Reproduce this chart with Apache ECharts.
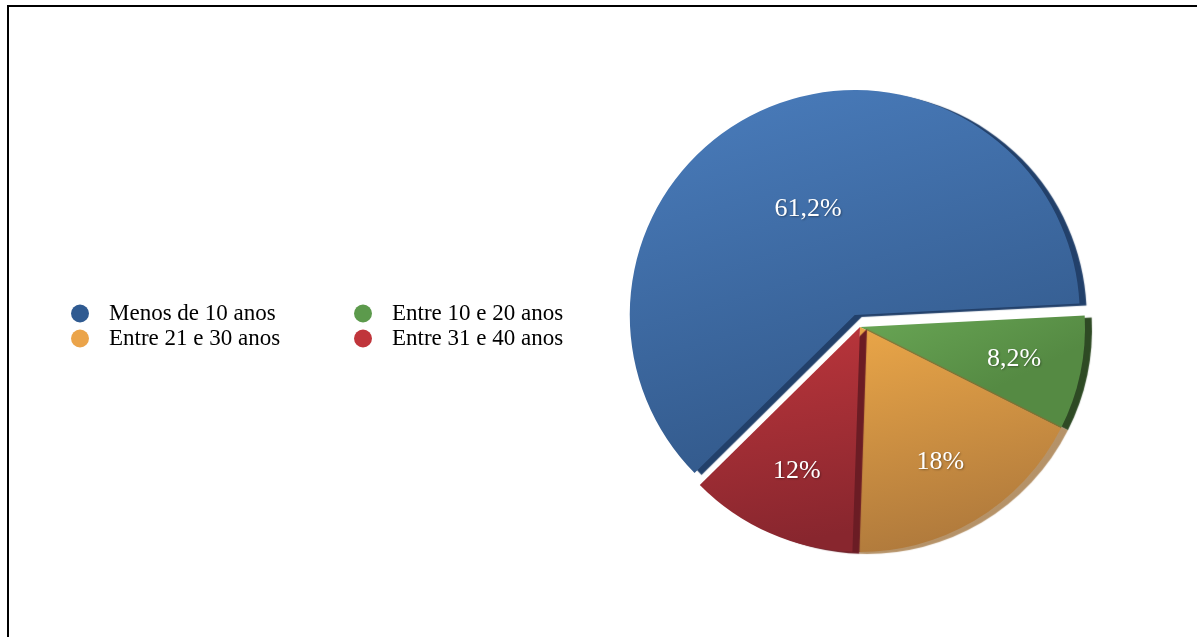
<!DOCTYPE html>
<html>
<head>
<meta charset="utf-8">
<script src="https://cdn.jsdelivr.net/npm/echarts/dist/echarts.min.js"></script>
<style>
  html, body { margin: 0; padding: 0; background: #fff; }
  #frame {
    position: absolute; left: 7px; top: 5px; right: 0; bottom: 0;
    border-top: 2px solid #000; border-left: 2px solid #000;
  }
  #chart { position: absolute; left: 0; top: 0; width: 1197px; height: 637px; }
</style>
</head>
<body>
<div id="frame"></div>
<div id="chart"></div>
<script>
// Age groups and their share of respondents (%)
const categories = ['Menos de 10 anos', 'Entre 10 e 20 anos', 'Entre 21 e 30 anos', 'Entre 31 e 40 anos'];
const shares = [61.2, 8.2, 18, 12];

// Slice shading: legend colour, light top tone, dark bottom tone, side/shadow tone
const legendColors = ['#2f5a91', '#5c9a4c', '#eba44a', '#c0353b'];
const topTones     = ['#4a7dbd', '#69a655', '#eaa648', '#bd363c'];
const bottomTones  = ['#335a8c', '#558a43', '#b07a3c', '#88262e'];
const sideTones    = ['#22406a', '#2e4a24', 'rgba(150,100,40,0.7)', '#6b1c24'];

const serif = '"Liberation Serif", "DejaVu Serif", serif';

const PIE_CENTER = [860, 327];
const PIE_RADIUS = 225;
const START_ANGLE = 224.6;
const EXPLODE = 13;
const LABEL_RADIUS = 0.7;

const total = shares.reduce((a, b) => a + b, 0);

// Mid-angle of each slice (degrees, counter-clockwise from 3 o'clock)
const midAngles = [];
let acc = 0;
shares.forEach(v => {
  midAngles.push(START_ANGLE - 360 * (acc + v / 2) / total);
  acc += v;
});

const fmt = v => String(v).replace('.', ',') + '%';

const data = shares.map((v, i) => ({
  name: categories[i],
  value: v,
  selected: i === 0,
  itemStyle: {
    color: {
      type: 'linear', x: 0, y: 0, x2: 0.25, y2: 1,
      colorStops: [
        { offset: 0, color: topTones[i] },
        { offset: 1, color: bottomTones[i] }
      ]
    },
    shadowColor: sideTones[i],
    shadowBlur: 1,
    shadowOffsetX: 7,
    shadowOffsetY: 2
  }
}));

const chart = echarts.init(document.getElementById('chart'), null, { renderer: 'canvas' });

chart.setOption({
  animation: false,
  color: legendColors,
  legend: {
    data: categories.map((c, i) => ({
      name: c,
      itemStyle: { color: legendColors[i], shadowBlur: 0, shadowOffsetX: 0, shadowOffsetY: 0, shadowColor: 'transparent' }
    })),
    orient: 'horizontal',
    left: 66,
    top: 297,
    width: 640,
    icon: 'circle',
    itemWidth: 18,
    itemHeight: 18,
    itemGap: 2,
    selectedMode: false,
    textStyle: {
      fontFamily: serif,
      fontSize: 23,
      lineHeight: 20,
      color: '#000',
      width: 243,
      padding: [0, 0, 0, 15]
    }
  },
  series: [{
    type: 'pie',
    center: PIE_CENTER,
    radius: PIE_RADIUS,
    startAngle: START_ANGLE,
    clockwise: true,
    selectedMode: 'multiple',
    selectedOffset: EXPLODE,
    avoidLabelOverlap: false,
    emphasis: { disabled: true },
    label: {
      show: true,
      position: 'inside',
      formatter: p => fmt(p.value),
      fontFamily: serif,
      fontSize: 26,
      color: '#fff',
      textShadowColor: 'rgba(0,0,0,0.35)',
      textShadowBlur: 2,
      textShadowOffsetX: 1,
      textShadowOffsetY: 1
    },
    labelLine: { show: false },
    labelLayout: params => {
      const i = params.dataIndex;
      const a = midAngles[i] * Math.PI / 180;
      const d = LABEL_RADIUS * PIE_RADIUS + (i === 0 ? EXPLODE : 0);
      return {
        x: PIE_CENTER[0] + d * Math.cos(a),
        y: PIE_CENTER[1] - d * Math.sin(a),
        align: 'center',
        verticalAlign: 'middle'
      };
    },
    data: data
  }]
});
</script>
</body>
</html>
